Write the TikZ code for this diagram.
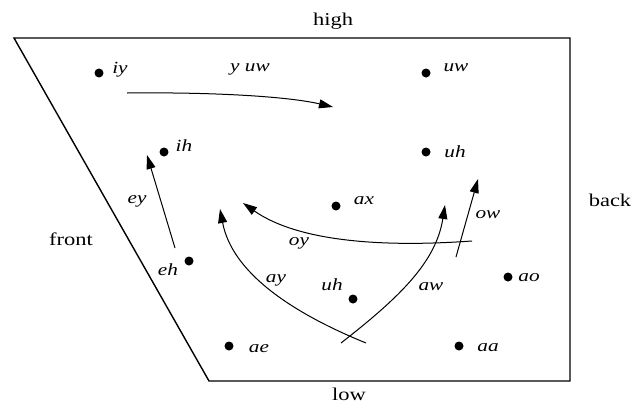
\documentclass[tikz,border=0pt]{standalone}
\usepackage{graphicx}
\usepackage{fontspec}
\setmainfont{Liberation Serif}
\usetikzlibrary{arrows.meta}
\newcommand\sxw[1]{\scalebox{1.25}[1]{#1}}
\begin{document}
\begin{tikzpicture}[x=1pt,y=1pt,
  vdot/.style={circle,fill=black,inner sep=0pt,minimum size=9pt},
  word/.style={font=\fontsize{18}{21}\selectfont,inner sep=0pt},
  lab/.style={font=\fontsize{17}{20}\selectfont\itshape,inner sep=0pt},
  arr/.style={line width=1pt,-{Triangle[length=14pt,width=9pt]}},
  outline/.style={line width=1.4pt,line join=miter}]
\useasboundingbox (0,0) rectangle (633,-405);
% outline
\coordinate (tl) at (14,-38);
\coordinate (tr) at (570,-38);
\coordinate (br) at (570,-381);
\coordinate (bl) at (209,-381);
\draw[outline] (tl) -- (tr) -- (br) -- (bl) -- cycle;
% axis words
\node[word] (high) at (333,-21) {\sxw{high}};
\node[word] (low) at (349,-394) {\sxw{low}};
\node[word] (front) at (71,-239) {\sxw{front}};
\node[word] (back) at (610,-200) {\sxw{back}};
% vowel dots
\node[vdot] (iy) at (99,-73) {};
\node[vdot] (uw) at (426,-73) {};
\node[vdot] (ih) at (164,-152) {};
\node[vdot] (uhh) at (426,-152) {};
\node[vdot] (ax) at (336,-206) {};
\node[vdot] (eh) at (189,-261) {};
\node[vdot] (ao) at (508,-277) {};
\node[vdot] (uhl) at (353,-299) {};
\node[vdot] (ae) at (229,-346) {};
\node[vdot] (aa) at (459,-346) {};
% vowel labels
\node[lab] (liy) at (120,-70) {\sxw{iy}};
\node[lab] (luw) at (456,-68) {\sxw{uw}};
\node[lab] (lih) at (184,-146) {\sxw{ih}};
\node[lab] (luhh) at (455,-152) {\sxw{uh}};
\node[lab] (lax) at (364,-201) {\sxw{ax}};
\node[lab] (leh) at (168,-270) {\sxw{eh}};
\node[lab] (lao) at (529,-278) {\sxw{ao}};
\node[lab] (luhl) at (332,-285) {\sxw{uh}};
\node[lab] (lae) at (259,-349) {\sxw{ae}};
\node[lab] (laa) at (488,-348) {\sxw{aa}};
% diphthong labels
\node[lab] (lyuw) at (250,-69) {\sxw{y uw}};
\node[lab] (ley) at (137,-201) {\sxw{ey}};
\node[lab] (loy) at (299,-243) {\sxw{oy}};
\node[lab] (lay) at (276,-280) {\sxw{ay}};
\node[lab] (law) at (431,-287) {\sxw{aw}};
\node[lab] (low2) at (488,-215) {\sxw{ow}};
% arrow ends
\coordinate (yuwS) at (127,-93);
\coordinate (yuwE) at (333,-107);
\coordinate (eyS) at (175,-248);
\coordinate (eyE) at (147,-155);
\coordinate (oyS) at (472,-241);
\coordinate (oyE) at (243,-203);
\coordinate (ayS) at (366,-343);
\coordinate (ayE) at (220,-209);
\coordinate (awS) at (341,-343);
\coordinate (awE) at (445,-205);
\coordinate (owS) at (456,-257);
\coordinate (owE) at (478,-179);
% arrows
\draw[arr] (yuwS) .. controls (220,-92) and (290,-97) .. (yuwE);
\draw[arr] (eyS) -- (eyE);
\draw[arr] (oyS) .. controls (360,-249) and (290,-236) .. (oyE);
\draw[arr] (ayS) .. controls (290,-312) and (232,-272) .. (ayE);
\draw[arr] (awS) .. controls (400,-297) and (436,-262) .. (awE);
\draw[arr] (owS) -- (owE);
\end{tikzpicture}
\end{document}
